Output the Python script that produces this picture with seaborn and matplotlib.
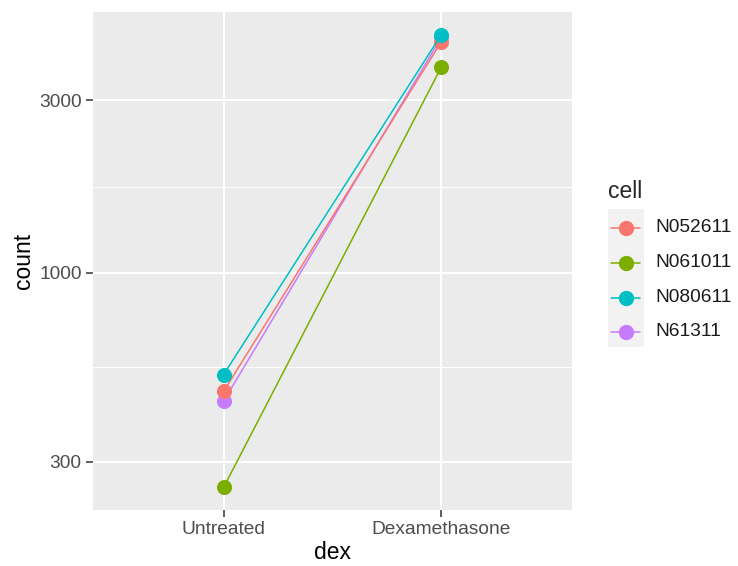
import numpy as np
import pandas as pd
import seaborn as sns
import matplotlib
matplotlib.use("Agg")
import matplotlib.pyplot as plt
from matplotlib.ticker import FixedLocator, NullFormatter, FixedFormatter
from matplotlib.patches import Rectangle

# data
dex_levels = ["Untreated", "Dexamethasone"]
cells = ["N052611", "N061011", "N080611", "N61311"]
untreated = [470, 255, 523, 442]
dexamethasone = [4360, 3710, 4560, 4480]
palette = ["#F8766D", "#7CAE00", "#00BFC4", "#C77CFF"]
draw_order = ["N61311", "N052611", "N080611", "N061011"]
y_ticks = [300, 1000, 3000]
y_tick_labels = ["300", "1000", "3000"]

rows = []
for c, u, d in zip(cells, untreated, dexamethasone):
    rows.append({"dex": dex_levels[0], "cell": c, "count": u})
    rows.append({"dex": dex_levels[1], "cell": c, "count": d})
df = pd.DataFrame(rows)

sns.set_theme(style="darkgrid")
plt.rcParams["font.family"] = ["Liberation Sans", "DejaVu Sans"]

TICK_FS = 13.8
TITLE_FS = 16.5

fig = plt.figure(figsize=(7.38, 5.66), dpi=100)
ax = fig.add_axes([93 / 738, 56 / 566, (572 - 93) / 738, (510 - 12) / 566])
ax.set_facecolor("#EBEBEB")

sns.pointplot(data=df, x="dex", y="count", hue="cell", order=dex_levels,
              hue_order=cells, palette=palette, errorbar=None, dodge=False,
              markers="o", linestyles="-", markersize=10, linewidth=1.1,
              ax=ax, legend=False)

# stacking order of the series (as drawn in the original)
for line, c in zip(ax.lines[:len(cells)], cells):
    line.set_zorder(3 + draw_order.index(c) * 0.1)

ax.set_yscale("log")
vals = np.log10(np.concatenate([untreated, dexamethasone]))
lo, hi = vals.min(), vals.max()
pad = 0.05 * (hi - lo)
ax.set_ylim(10 ** (lo - pad), 10 ** (hi + pad))
ax.set_xlim(-0.6, 1.6)

ax.yaxis.set_major_locator(FixedLocator(y_ticks))
ax.yaxis.set_major_formatter(FixedFormatter(y_tick_labels))
minor = [np.sqrt(y_ticks[i] * y_ticks[i + 1]) for i in range(len(y_ticks) - 1)]
ax.yaxis.set_minor_locator(FixedLocator(minor))
ax.yaxis.set_minor_formatter(NullFormatter())

ax.grid(which="major", color="white", linewidth=1.45)
ax.grid(which="minor", axis="y", color="white", linewidth=0.75)
ax.set_axisbelow(True)
for s in ax.spines.values():
    s.set_visible(False)

ax.tick_params(axis="both", which="major", length=4.7, width=1.1, color="#333333",
               labelsize=TICK_FS, labelcolor="#4D4D4D", pad=3.5, left=True, bottom=True)
ax.tick_params(axis="y", which="minor", length=0)

ax.set_xlabel("dex", fontsize=TITLE_FS, color="black", labelpad=2)
ax.set_ylabel("count", fontsize=TITLE_FS, color="black", labelpad=3)

# legend
fig.patches.append(Rectangle((608 / 738, 1 - 347 / 566), 36 / 738, 138 / 566,
                             transform=fig.transFigure, facecolor="#F2F2F2",
                             edgecolor="none", zorder=0))
fig.text(608 / 738, 1 - 191 / 566, "cell", fontsize=TITLE_FS, va="center", ha="left")
key_y = [227.5, 262.5, 297.5, 332]
for c, col, ky in zip(cells, palette, key_y):
    yy = 1 - ky / 566
    fig.add_artist(plt.Line2D([611 / 738, 640 / 738], [yy, yy], color=col,
                              linewidth=1.1, transform=fig.transFigure))
    fig.add_artist(plt.Line2D([626 / 738], [yy], color=col, marker="o",
                              markersize=10, transform=fig.transFigure))
    fig.text(655 / 738, yy, c, fontsize=TICK_FS, va="center", ha="left", color="#1A1A1A")

fig.savefig("out.png", dpi=100, facecolor="white")
